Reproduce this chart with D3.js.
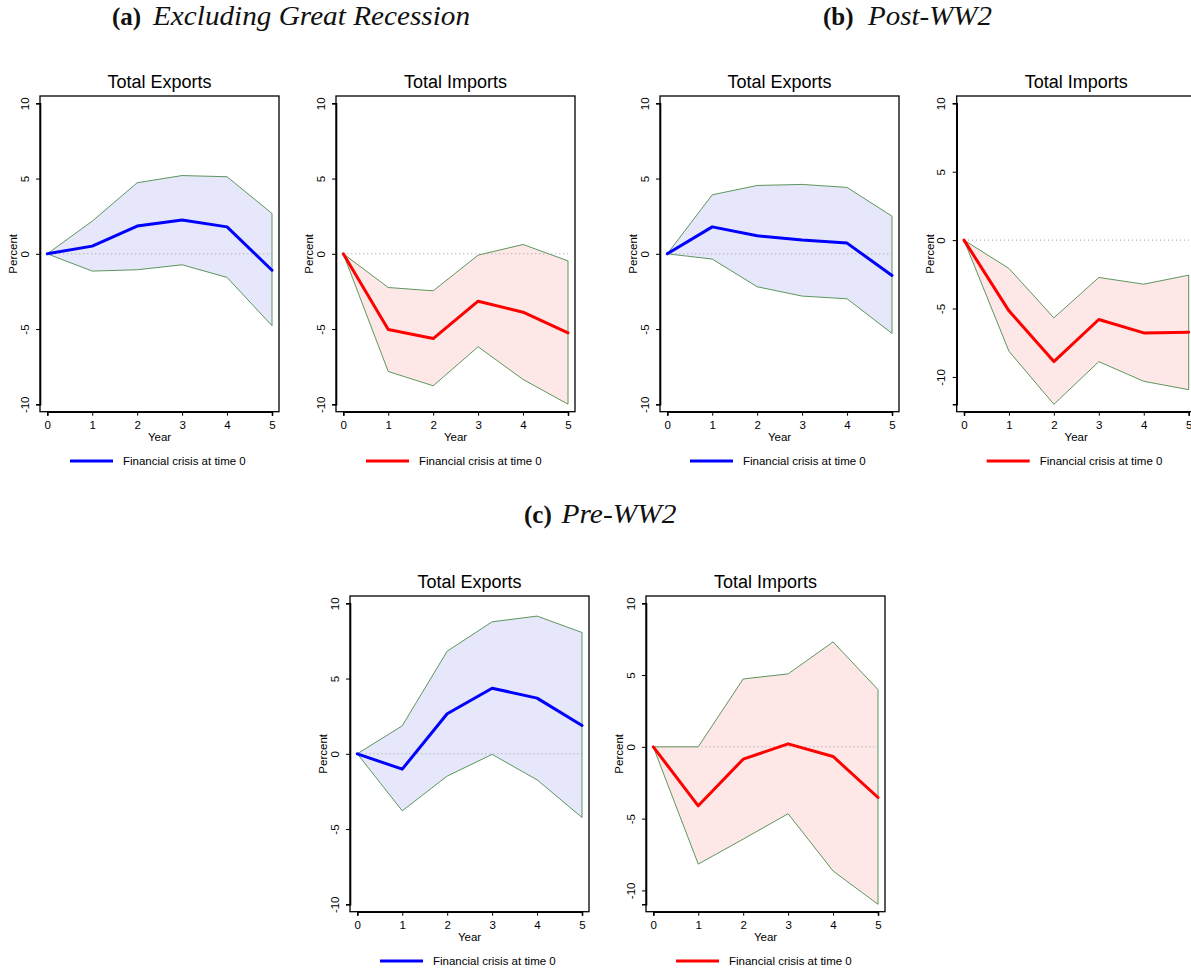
<!DOCTYPE html>
<html>
<head>
<meta charset="utf-8">
<script src="https://cdn.jsdelivr.net/npm/d3@7/dist/d3.min.js"></script>
<style>
  html, body { margin: 0; padding: 0; background: #fff; }
  svg { display: block; }
</style>
</head>
<body>
<svg id="chart" width="1191" height="970"></svg>
<script>
// ---------------- data ----------------
const years = [0, 1, 2, 3, 4, 5];
const yTicks = [-10, -5, 0, 5, 10];
const panelTitles = ["Total Exports", "Total Imports"];
const xAxisLabel = "Year";
const yAxisLabel = "Percent";
const legendLabel = "Financial crisis at time 0";
const headingTags = ["(a)", "(b)", "(c)"];
const headingTexts = ["Excluding Great Recession", "Post-WW2", "Pre-WW2"];

// (a) Excluding Great Recession
const aExpMean = [0, 0.51, 1.84, 2.24, 1.79, -1.09];
const aExpHi   = [0, 2.17, 4.72, 5.20, 5.12, 2.68];
const aExpLo   = [0, -1.15, -1.06, -0.73, -1.57, -4.78];
const aImpMean = [0, -5.03, -5.63, -3.15, -3.88, -5.25];
const aImpHi   = [0, -2.24, -2.46, -0.09, 0.62, -0.47];
const aImpLo   = [0, -7.82, -8.77, -6.18, -8.35, -9.99];
// (b) Post-WW2
const bExpMean = [0, 1.79, 1.20, 0.91, 0.71, -1.44];
const bExpHi   = [0, 3.92, 4.54, 4.61, 4.41, 2.50];
const bExpLo   = [0, -0.35, -2.19, -2.81, -2.99, -5.29];
const bImpMean = [0, -5.17, -8.88, -5.80, -6.78, -6.73];
const bImpHi   = [0, -2.07, -5.68, -2.73, -3.22, -2.56];
const bImpLo   = [0, -8.12, -12.00, -8.88, -10.32, -10.93];
// (c) Pre-WW2
const cExpMean = [0, -1.02, 2.66, 4.36, 3.70, 1.88];
const cExpHi   = [0, 1.86, 6.82, 8.77, 9.15, 8.06];
const cExpLo   = [0, -3.79, -1.48, -0.04, -1.73, -4.23];
const cImpMean = [0, -4.11, -0.86, 0.21, -0.67, -3.53];
const cImpHi   = [0, 0, 4.73, 5.08, 7.31, 3.99];
const cImpLo   = [0, -8.17, -6.43, -4.66, -8.65, -10.97];

// ---------------- layout / style ----------------
const FRAME_W = 239, FRAME_H = 315.7, PAD = 7.3;
const exportStyle = { line: "#0000ff", fill: "#e6e7fa" };
const importStyle = { line: "#ff0000", fill: "#fde7e7" };
const bandStroke = "#4b8b4b";

const panels = [
  { left: 40,    top: 96,  title: panelTitles[0], mean: aExpMean, hi: aExpHi, lo: aExpLo, style: exportStyle },
  { left: 336,   top: 96,  title: panelTitles[1], mean: aImpMean, hi: aImpHi, lo: aImpLo, style: importStyle },
  { left: 660,   top: 96,  title: panelTitles[0], mean: bExpMean, hi: bExpHi, lo: bExpLo, style: exportStyle },
  { left: 956.7, top: 96,  title: panelTitles[1], mean: bImpMean, hi: bImpHi, lo: bImpLo, style: importStyle },
  { left: 350,   top: 596, title: panelTitles[0], mean: cExpMean, hi: cExpHi, lo: cExpLo, style: exportStyle },
  { left: 646,   top: 596, title: panelTitles[1], mean: cImpMean, hi: cImpHi, lo: cImpLo, style: importStyle }
];

const headingLayout = [
  { tagX: 112, textX: 153,   y: 25,  width: 317 },
  { tagX: 823, textX: 868,   y: 25,  width: 124 },
  { tagX: 524, textX: 561.5, y: 523, width: 115 }
];

const svg = d3.select("#chart");
svg.append("rect").attr("width", 1191).attr("height", 970).attr("fill", "#fff");

const SANS = "'Liberation Sans', Arial, Helvetica, sans-serif";
const SERIF = "'Liberation Serif', 'Times New Roman', serif";
const fmt = d => String(d);  // plain hyphen-minus like the original

// ---------------- headings ----------------
headingTags.forEach((tag, i) => {
  const L = headingLayout[i];
  svg.append("text")
    .attr("x", L.tagX).attr("y", L.y)
    .attr("font-family", SERIF).attr("font-weight", "bold").attr("font-size", 25)
    .attr("fill", "#111")
    .text(tag);
  svg.append("text")
    .attr("x", L.textX).attr("y", L.y)
    .attr("font-family", SERIF).attr("font-style", "italic").attr("font-size", 26.5)
    .attr("fill", "#111")
    .attr("textLength", L.width).attr("lengthAdjust", "spacingAndGlyphs")
    .text(headingTexts[i]);
});

// ---------------- panels ----------------
function drawPanel(p) {
  const g = svg.append("g");
  const right = p.left + FRAME_W, bottom = p.top + FRAME_H;
  const yMin = Math.min(-10, d3.min(p.lo)), yMax = Math.max(10, d3.max(p.hi));
  const x = d3.scaleLinear().domain([0, 5]).range([p.left + PAD, right - 7]);
  const y = d3.scaleLinear().domain([yMin, yMax]).range([bottom - 7.4, p.top + 7.3]);

  const rows = years.map((yr, i) => ({ yr, m: p.mean[i], hi: p.hi[i], lo: p.lo[i] }));

  // confidence band
  const area = d3.area().x(d => x(d.yr)).y0(d => y(d.lo)).y1(d => y(d.hi));
  g.append("path").datum(rows).attr("d", area)
    .attr("fill", p.style.fill).attr("stroke", "none");
  // band border (closed polygon outline)
  const ring = rows.map(d => [x(d.yr), y(d.hi)]).concat(rows.slice().reverse().map(d => [x(d.yr), y(d.lo)]));
  g.append("path").attr("d", "M" + ring.map(q => q.join(",")).join("L") + "Z")
    .attr("fill", "none").attr("stroke", bandStroke).attr("stroke-width", 0.9)
    .attr("stroke-linejoin", "miter");

  // zero reference line
  g.append("line")
    .attr("x1", x(0)).attr("x2", x(5)).attr("y1", y(0)).attr("y2", y(0))
    .attr("stroke", "#9a9a9a").attr("stroke-width", 1).attr("stroke-dasharray", "1,3");

  // mean line
  const line = d3.line().x(d => x(d.yr)).y(d => y(d.m));
  g.append("path").datum(rows).attr("d", line)
    .attr("fill", "none").attr("stroke", p.style.line).attr("stroke-width", 3)
    .attr("stroke-linejoin", "round").attr("stroke-linecap", "round");

  // frame
  g.append("rect").attr("x", p.left).attr("y", p.top)
    .attr("width", FRAME_W).attr("height", FRAME_H)
    .attr("fill", "none").attr("stroke", "#000").attr("stroke-width", 1.3);

  // y axis
  const yAxis = d3.axisLeft(y).tickValues(yTicks).tickSize(4).tickFormat(fmt);
  const ya = g.append("g").attr("transform", `translate(${p.left},0)`).call(yAxis);
  ya.select(".domain").attr("stroke", "#000").attr("stroke-width", 1.6);
  ya.selectAll(".tick line").attr("stroke", "#000").attr("stroke-width", 1);
  ya.selectAll(".tick text")
    .attr("font-family", SANS).attr("font-size", 11.5).attr("fill", "#000")
    .attr("text-anchor", "middle")
    .attr("x", null).attr("dy", null)
    .attr("transform", "translate(-11.5,0) rotate(-90)")
    .attr("y", 0);

  // x axis
  const xAxis = d3.axisBottom(x).tickValues(years).tickSize(4).tickFormat(fmt);
  const xa = g.append("g").attr("transform", `translate(0,${bottom})`).call(xAxis);
  xa.select(".domain").attr("stroke", "#000").attr("stroke-width", 1.6);
  xa.selectAll(".tick line").attr("stroke", "#000").attr("stroke-width", 1);
  xa.selectAll(".tick text")
    .attr("font-family", SANS).attr("font-size", 11.5).attr("fill", "#000")
    .attr("dy", null).attr("y", 17.5);

  // axis titles
  g.append("text")
    .attr("x", (p.left + right) / 2).attr("y", bottom + 29)
    .attr("text-anchor", "middle").attr("font-family", SANS).attr("font-size", 11.5)
    .text(xAxisLabel);
  g.append("text")
    .attr("transform", `translate(${p.left - 23},${(p.top + bottom) / 2}) rotate(-90)`)
    .attr("text-anchor", "middle").attr("font-family", SANS).attr("font-size", 11.5)
    .text(yAxisLabel);

  // panel title
  g.append("text")
    .attr("x", (p.left + right) / 2).attr("y", p.top - 8)
    .attr("text-anchor", "middle").attr("font-family", SANS).attr("font-size", 18)
    .attr("fill", "#000")
    .text(p.title);

  // legend
  g.append("line")
    .attr("x1", p.left + 30).attr("x2", p.left + 73)
    .attr("y1", bottom + 49.3).attr("y2", bottom + 49.3)
    .attr("stroke", p.style.line).attr("stroke-width", 3);
  g.append("text")
    .attr("x", p.left + 83).attr("y", bottom + 53.3)
    .attr("font-family", SANS).attr("font-size", 11.5).attr("fill", "#000")
    .text(legendLabel);
}

panels.forEach(drawPanel);
</script>
</body>
</html>
